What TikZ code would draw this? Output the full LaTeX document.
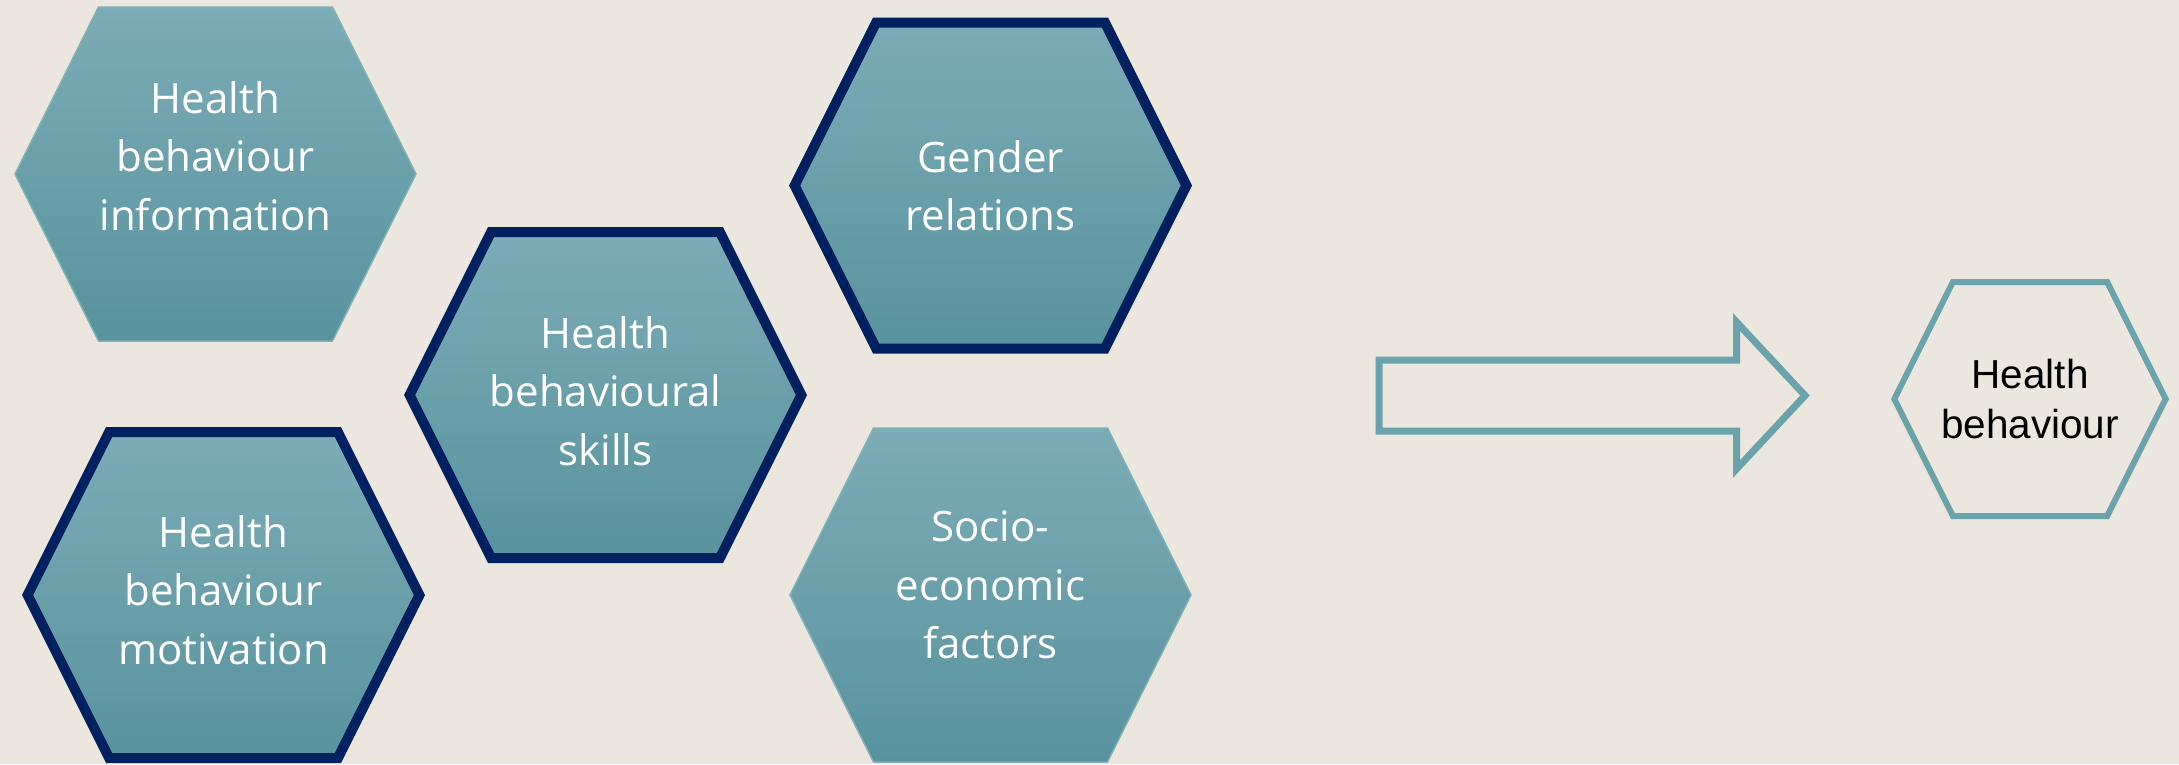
\documentclass[tikz,border=0pt]{standalone}
\usepackage{fontspec}
\setmainfont{Open Sans}
\newfontfamily\arialfont{Liberation Sans}
\usepackage{tikz}
\usetikzlibrary{backgrounds}

\definecolor{paper}{RGB}{235,231,222}
\definecolor{hextop}{RGB}{124,172,182}
\definecolor{hexbot}{RGB}{88,147,158}
\definecolor{hexline}{RGB}{128,177,187}
\definecolor{navy}{RGB}{0,32,96}
\definecolor{teal}{RGB}{107,163,172}

% flat-topped hexagon traced round a node's box, #2 = horizontal inset
\newcommand{\hexpath}[2]{([xshift=#2]#1.north west) -- ([xshift=-#2]#1.north east)
  -- (#1.east) -- ([xshift=-#2]#1.south east) -- ([xshift=#2]#1.south west)
  -- (#1.west) -- cycle}

\begin{document}
\begin{tikzpicture}[x=1pt,y=1pt,
  hexbase/.style={rectangle,inner sep=0pt,outer sep=0pt,align=center,
                  text=white,font=\fontsize{42}{58.5}\selectfont},
  hexa/.style ={hexbase,minimum width=401pt,minimum height=334pt},
  hexb/.style ={hexbase,minimum width=391.8pt,minimum height=326pt},
  outhex/.style={rectangle,inner sep=0pt,outer sep=0pt,align=center,
                 minimum width=271.3pt,minimum height=234pt,
                 font=\arialfont\fontsize{40.5}{50}\selectfont},
  hexfill/.style={top color=hextop,bottom color=hexbot},
  blockarr/.style={draw=teal,line width=7pt,miter limit=20}
]
\useasboundingbox (0,0) rectangle (2179,-764);

%% left cluster -- five factor hexagons
\node[hexa,text depth=36pt] (info)   at (215.5,-174)  {Health\\behaviour\\information};
\node[hexb,text depth=8pt]  (skills) at (605.5,-395)  {Health\\behavioural\\skills};
\node[hexb,text depth=10pt] (motiv)  at (223.5,-595)  {Health\\behaviour\\motivation};
\node[hexb]                 (gender) at (990.5,-185.5){Gender\\relations};
\node[hexa,text depth=20pt] (socio)  at (990.5,-595)  {Socio-\\economic\\factors};

%% outcome on the right
\node[outhex] (behav) at (2030,-399) {Health\\behaviour};

%% block arrow towards the outcome
\coordinate (tail) at (1379,-360);
\draw[blockarr] (tail) -- ++(357.5,0) -- ++(0,38) -- (1805,-395.5)
  -- (1736.5,-469) -- ++(0,38) -- (1379,-431) -- cycle;

\begin{scope}[on background layer]
  \fill[paper] (0,0) rectangle (2179,-764);
  \foreach \n in {info,socio}
    \path[hexfill,draw=hexline,line width=1.5pt] \hexpath{\n}{83.5pt};
  \foreach \n in {skills,motiv,gender}
    \path[hexfill,draw=navy,line width=10pt] \hexpath{\n}{81.5pt};
  \draw[teal,line width=6pt] \hexpath{behav}{58.5pt};
\end{scope}
\end{tikzpicture}
\end{document}
